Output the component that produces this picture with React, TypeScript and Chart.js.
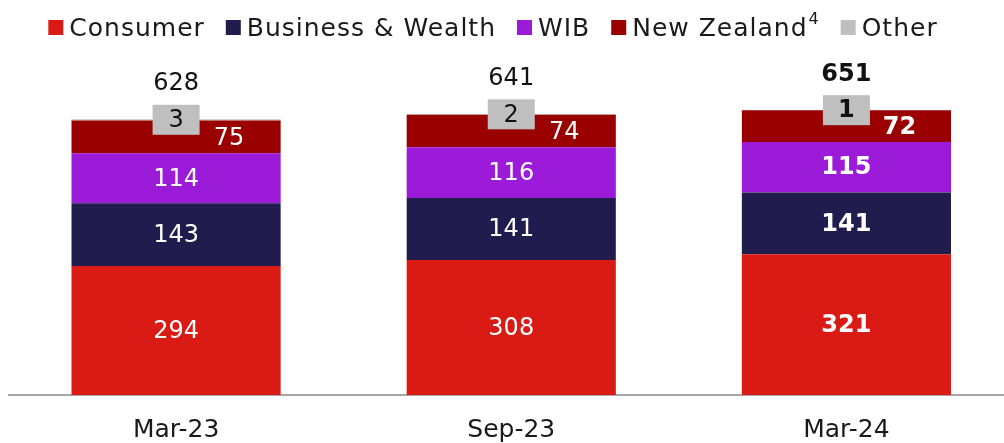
import React, { useEffect, useRef } from "react";
import { Chart, registerables } from "chart.js";

Chart.register(...registerables);

const categories = ["Mar-23", "Sep-23", "Mar-24"];
const consumer = [294, 308, 321];
const businessWealth = [143, 141, 141];
const wib = [114, 116, 115];
const newZealand = [75, 74, 72];
const other = [3, 2, 1];
const totals = [628, 641, 651];

const seriesNames = ["Consumer", "Business & Wealth", "WIB", "New Zealand", "Other"];
const seriesSup = ["", "", "", "4", ""];
const seriesColors = ["#DA1A14", "#201C4E", "#9B1BD9", "#9A0000", "#BFBFBF"];

const FONT = '"DejaVu Sans", sans-serif';

const legendPlugin = {
  id: "topLegend",
  afterDraw(chart: any) {
    const ctx = chart.ctx;
    ctx.save();
    const mainFont = `25px ${FONT}`;
    const supFont = `16px ${FONT}`;
    const box = 15;
    const boxGap = 6;
    const itemGap = 21;
    (ctx as any).letterSpacing = "1px";
    const widths = chart.data.datasets.map((ds: any, k: number) => {
      ctx.font = mainFont;
      let w = ctx.measureText(seriesNames[k]).width;
      if (seriesSup[k]) {
        ctx.font = supFont;
        w += ctx.measureText(seriesSup[k]).width + 1;
      }
      return box + boxGap + w;
    });
    const total = widths.reduce((a: number, b: number) => a + b, 0) + itemGap * (widths.length - 1);
    let x = 493 - total / 2;
    const cy = 27.5;
    chart.data.datasets.forEach((ds: any, k: number) => {
      ctx.fillStyle = ds.backgroundColor;
      ctx.fillRect(x, cy - box / 2, box, box);
      let tx = x + box + boxGap;
      ctx.font = mainFont;
      ctx.fillStyle = "#1a1a1a";
      ctx.textAlign = "left";
      ctx.textBaseline = "alphabetic";
      ctx.fillText(seriesNames[k], tx, 36);
      tx += ctx.measureText(seriesNames[k]).width + 1;
      if (seriesSup[k]) {
        ctx.font = supFont;
        ctx.fillText(seriesSup[k], tx, 24);
      }
      x += widths[k] + itemGap;
    });
    ctx.restore();
  },
};

const labelPlugin = {
  id: "segLabels",
  afterDatasetsDraw(chart: any) {
    const ctx = chart.ctx;
    ctx.save();
    ctx.textAlign = "center";
    ctx.textBaseline = "middle";
    const n = chart.data.datasets.length;
    chart.data.datasets.forEach((ds: any, di: number) => {
      const meta = chart.getDatasetMeta(di);
      meta.data.forEach((bar: any, i: number) => {
        const v = ds.data[i];
        const bold = i === 2;
        ctx.font = `${bold ? "bold " : ""}24px ${FONT}`;
        const cx = bar.x;
        const cy = (bar.y + bar.base) / 2;
        if (di === 4) {
          ctx.fillStyle = "#BFBFBF";
          ctx.fillRect(cx - 23.5, cy - 15, 47, 30);
          ctx.fillStyle = "#111111";
          ctx.fillText(String(v), cx, cy + 1);
        } else if (di === 3) {
          ctx.fillStyle = "#FFFFFF";
          ctx.fillText(String(v), cx + 53, cy + 2);
        } else {
          ctx.fillStyle = "#FFFFFF";
          ctx.fillText(String(v), cx, cy + 1);
        }
      });
    });
    const topMeta = chart.getDatasetMeta(n - 1);
    topMeta.data.forEach((bar: any, i: number) => {
      ctx.font = `${i === 2 ? "bold " : ""}24px ${FONT}`;
      ctx.fillStyle = "#111111";
      ctx.fillText(String(totals[i]), bar.x, bar.y - 35);
    });
    ctx.restore();
  },
};

export default function App() {
  const ref = useRef<HTMLCanvasElement | null>(null);
  useEffect(() => {
    document.body.style.margin = "0";
    document.body.style.overflow = "hidden";
    const values = [consumer, businessWealth, wib, newZealand, other];
    const chart = new Chart(ref.current as HTMLCanvasElement, {
      type: "bar",
      data: {
        labels: categories,
        datasets: values.map((d, k) => ({
          label: seriesNames[k],
          data: d,
          backgroundColor: seriesColors[k],
          borderWidth: 0,
          categoryPercentage: 1,
          barPercentage: 0.624,
        })),
      },
      options: {
        responsive: false,
        animation: false,
        devicePixelRatio: 1,
        layout: { padding: { left: 8.5, right: 0, top: 88, bottom: 0 } },
        plugins: {
          legend: { display: false },
          tooltip: { enabled: false },
        },
        scales: {
          x: {
            stacked: true,
            grid: { display: false, drawTicks: false },
            border: { display: true, color: "#A6A6A6", width: 2 },
            ticks: { color: "#1a1a1a", font: { family: FONT, size: 25 }, padding: 20 },
            afterFit: (s: any) => {
              s.height = 48;
            },
          },
          y: { stacked: true, display: false, min: 0, max: 700 },
        },
      },
      plugins: [labelPlugin, legendPlugin],
    });
    return () => chart.destroy();
  }, []);
  return (
    <div style={{ width: 1014, height: 443 }}>
      <canvas ref={ref} width={1014} height={443} />
    </div>
  );
}
